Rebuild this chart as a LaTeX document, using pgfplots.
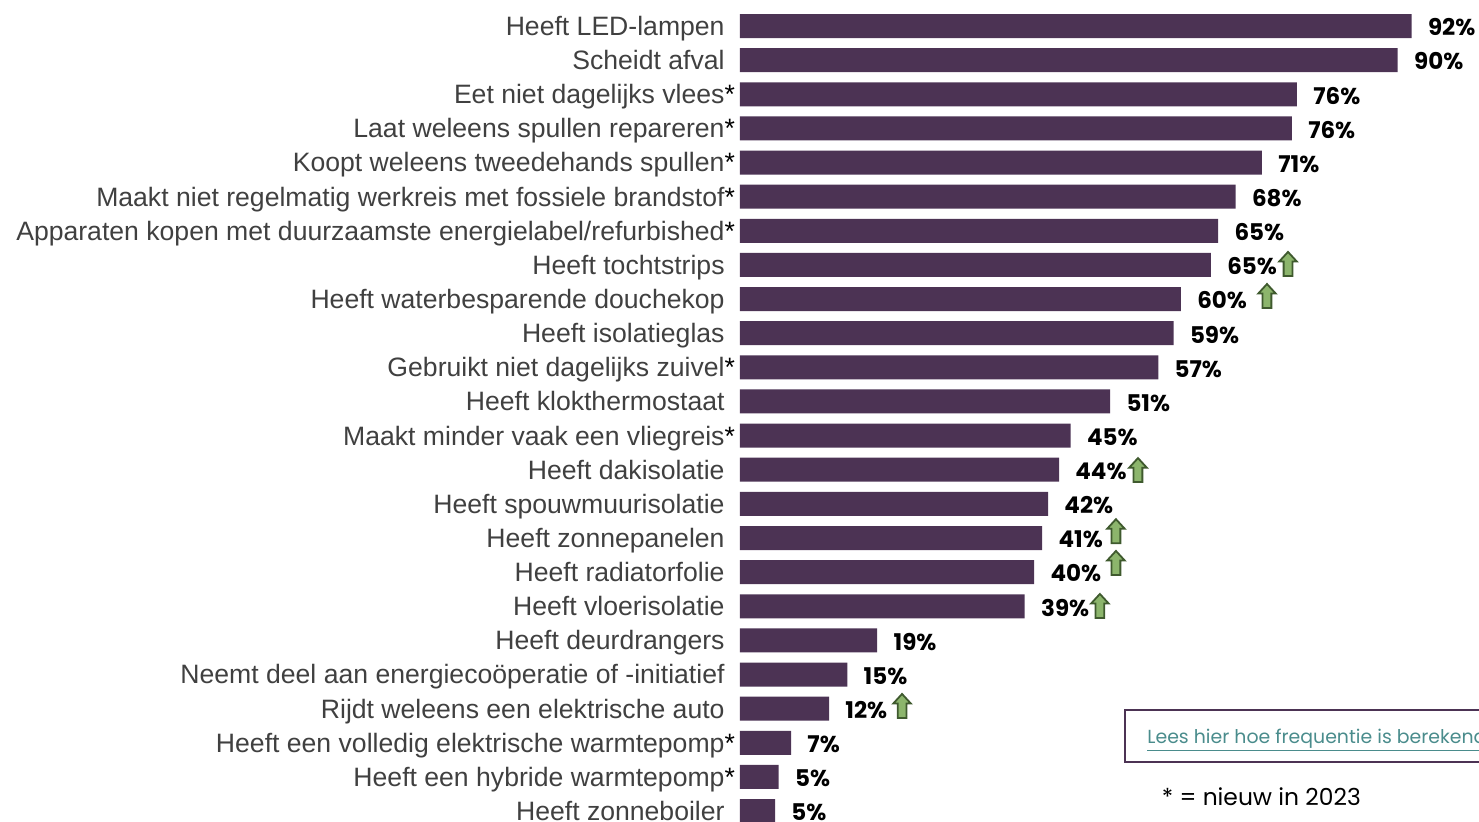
\documentclass[border=0pt]{standalone}
\usepackage{pgfplots}
\usepackage{pgfplotstable}
\usepackage{fontspec}
\pgfplotsset{compat=1.18}
\setmainfont{Liberation Sans}
\newfontfamily\valfont{Poppins}
\definecolor{barpurple}{HTML}{4C3354}
\definecolor{labelgrey}{HTML}{404040}
\definecolor{linkteal}{HTML}{4A8C8C}
\definecolor{arrowfill}{HTML}{8CB56C}
\definecolor{arrowedge}{HTML}{3F5A2E}
\newcommand{\st}{\rlap{\color{black}*}\hspace{1pt}}
\pgfdeclareplotmark{greenup}{%
  \pgfpathmoveto{\pgfqpoint{0pt}{6pt}}
  \pgfpathlineto{\pgfqpoint{4.4pt}{1.2pt}}
  \pgfpathlineto{\pgfqpoint{2.2pt}{1.2pt}}
  \pgfpathlineto{\pgfqpoint{2.2pt}{-6pt}}
  \pgfpathlineto{\pgfqpoint{-2.2pt}{-6pt}}
  \pgfpathlineto{\pgfqpoint{-2.2pt}{1.2pt}}
  \pgfpathlineto{\pgfqpoint{-4.4pt}{1.2pt}}
  \pgfpathclose
  \pgfusepathqfillstroke
}
\pgfplotstableread{
i v l
0 92.0 92
1 90.1 90
2 76.3 76
3 75.6 76
4 71.5 71
5 67.9 68
6 65.5 65
7 64.5 65
8 60.4 60
9 59.4 59
10 57.3 57
11 50.7 51
12 45.3 45
13 43.7 44
14 42.2 42
15 41.4 41
16 40.3 40
17 39.0 39
18 18.8 19
19 14.7 15
20 12.2 12
21 7.0 7
22 5.3 5
23 4.8 5
}\bardata
\begin{document}
\begin{tikzpicture}
\useasboundingbox (-370pt,0pt) rectangle (369.5pt,411pt);
\clip (-370pt,0pt) rectangle (369.5pt,411pt);
\begin{axis}[
  at={(0pt,0pt)},anchor=south west,
  scale only axis,width=369.5pt,height=411pt,
  xmin=0,xmax=101.23,ymin=-0.762,ymax=23.32,
  y dir=reverse,clip=false,
  axis x line=none,axis y line=left,
  y axis line style={draw=none},
  major tick length=0pt,
  /pgf/number format/assume math mode=true,
  ytick={0,...,23},
  yticklabels={
    Heeft LED-lampen,Scheidt afval,Eet niet dagelijks vlees\st,
    Laat weleens spullen repareren\st,Koopt weleens tweedehands spullen\st,
    Maakt niet regelmatig werkreis met fossiele brandstof\st,
    Apparaten kopen met duurzaamste energielabel/refurbished\st,
    Heeft tochtstrips,Heeft waterbesparende douchekop,Heeft isolatieglas,
    Gebruikt niet dagelijks zuivel\st,Heeft klokthermostaat,
    Maakt minder vaak een vliegreis\st,Heeft dakisolatie,
    Heeft spouwmuurisolatie,Heeft zonnepanelen,Heeft radiatorfolie,
    Heeft vloerisolatie,Heeft deurdrangers,
    Neemt deel aan energiecoöperatie of -initiatief,
    Rijdt weleens een elektrische auto,
    Heeft een volledig elektrische warmtepomp\st,
    Heeft een hybride warmtepomp\st,Heeft zonneboiler},
  yticklabel style={font=\fontsize{13.3}{15}\selectfont,text=labelgrey,
    anchor=base east,inner sep=0pt,xshift=-7.5pt,yshift=-4.7pt},
]
\addplot[xbar,bar width=12pt,bar shift=0pt,fill=barpurple,draw=none,
  point meta=explicit,
  nodes near coords={\pgfmathprintnumber[assume math mode=true]{\pgfplotspointmeta}\%},
  nodes near coords style={anchor=west,inner sep=0pt,xshift=8pt,yshift=-0.7pt,
    text=black,font=\valfont\bfseries\fontsize{11.5}{13}\selectfont}]
  table[x=v,y=i,meta=l]{\bardata};
\addplot[only marks,mark=greenup,mark size=1pt,
  mark options={fill=arrowfill,draw=arrowedge,line width=0.9pt}] coordinates {
  (75.07,6.97) (72.19,7.91) (54.52,13.01) (51.5,14.80)
  (51.5,15.73) (49.3,16.99) (22.2,19.92)
};
\draw[barpurple,line width=0.9pt] (axis cs:52.74,20.04) rectangle (axis cs:110,21.56);
\node[anchor=base west,inner sep=0pt,text=linkteal,font=\valfont\fontsize{9.45}{11}\selectfont]
  at (axis cs:55.75,21.01) {\underline{Lees hier hoe frequentie is berekend}};
\node[anchor=base west,inner sep=0pt,text=black,font=\valfont\fontsize{11.7}{13}\selectfont]
  at (axis cs:57.75,22.85) {* = nieuw in 2023};
\end{axis}
\end{tikzpicture}
\end{document}
